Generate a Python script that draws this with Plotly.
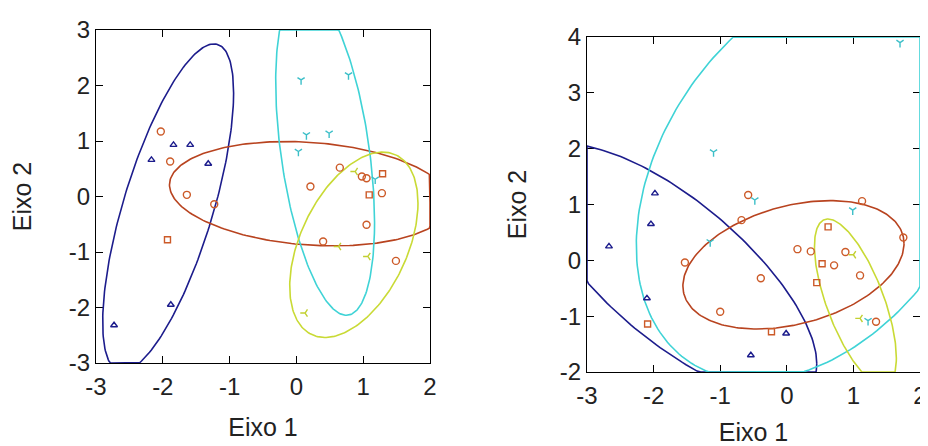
import numpy as np
import plotly.graph_objects as go
from plotly.subplots import make_subplots

# --- scatter points, left panel ---
l_tri_x = [-1.84, -1.59, -2.17, -1.32, -1.88, -2.73]
l_tri_y = [0.93, 0.93, 0.66, 0.59, -1.95, -2.32]
l_circ_x = [-2.03, -1.89, -1.64, -1.23, 0.21, 0.65, 0.98, 1.05, 1.28, 1.05, 0.40, 1.49]
l_circ_y = [1.17, 0.63, 0.03, -0.14, 0.18, 0.52, 0.36, 0.33, 0.06, -0.51, -0.81, -1.16]
l_sq_x = [-1.93, 1.09, 1.29]
l_sq_y = [-0.78, 0.03, 0.41]
l_cyan_x = [0.07, 0.78, 0.15, 0.49, 0.03, 1.18]
l_cyan_y = [2.10, 2.19, 1.11, 1.14, 0.81, 0.31]
l_yel_x = [0.88, 0.63, 0.13, 1.07]
l_yel_y = [0.45, -0.90, -2.10, -1.08]

# --- scatter points, right panel ---
r_tri_x = [-1.98, -2.04, -2.67, -2.10, -0.01, -0.54]
r_tri_y = [1.20, 0.65, 0.25, -0.68, -1.31, -1.70]
r_circ_x = [-0.58, -0.68, -1.53, -0.39, -1.00, 1.13, 1.75, 0.16, 0.36, 0.88, 0.71, 1.10, 1.34]
r_circ_y = [1.17, 0.72, -0.04, -0.32, -0.92, 1.06, 0.41, 0.20, 0.16, 0.15, -0.09, -0.27, -1.10]
r_sq_x = [0.62, 0.53, 0.45, -0.23, -2.09]
r_sq_y = [0.60, -0.06, -0.40, -1.28, -1.14]
r_cyan_x = [-1.10, -0.48, 0.99, 1.70, -1.15, 1.22]
r_cyan_y = [1.94, 1.08, 0.90, 3.90, 0.33, -1.08]
r_yel_x = [1.00, 1.10]
r_yel_y = [0.10, -1.04]

# ellipse parameters per group: centre x/y, half extents along x/y, correlation
# order: blue, red, cyan, yellow
l_ell_cx = [-1.92, 0.20, 0.43, 0.86]
l_ell_cy = [-0.20, 0.05, 0.80, -0.87]
l_ell_rx = [0.98, 2.10, 0.74, 0.96]
l_ell_ry = [2.95, 0.94, 2.94, 1.67]
l_ell_rho = [0.70, -0.17, -0.43, 0.45]

r_ell_cx = [-1.68, 0.10, 0.40, 1.03]
r_ell_cy = [-0.20, -0.08, 1.50, -0.75]
r_ell_rx = [2.13, 1.66, 2.66, 0.615]
r_ell_ry = [2.26, 1.15, 3.65, 1.49]
r_ell_rho = [-0.73, 0.33, 0.34, -0.67]

x_ticks = [-3, -2, -1, 0, 1, 2]
x_ticklabels = ["-3", "-2", "-1", "0", "1", "2"]
l_y_ticks = [-3, -2, -1, 0, 1, 2, 3]
l_y_ticklabels = ["-3", "-2", "-1", "0", "1", "2", "3"]
r_y_ticks = [-2, -1, 0, 1, 2, 3, 4]
r_y_ticklabels = ["-2", "-1", "0", "1", "2", "3", "4"]

l_xrange, l_yrange = (-3, 2), (-3, 3)
r_xrange, r_yrange = (-3, 2), (-2, 4)

ELL_COLORS = ["#1c1c8c", "#b8431f", "#3fd3d6", "#c9da35"]
FONT = "Liberation Sans, Arial, sans-serif"

# the page body adds an 8px margin, so lay out on a slightly smaller canvas
PAD = 8
W, H = 928 - PAD, 446 - PAD


def xdom(a, b):
    return [(a - PAD) / W, (b - PAD) / W]


def ydom(top, bottom):
    return [1 - (bottom - PAD) / H, 1 - (top - PAD) / H]


def ellipse(cx, cy, rx, ry, rho, xr, yr):
    t = np.linspace(0, 2 * np.pi, 241)
    x = cx + rx * np.cos(t)
    y = cy + ry * (rho * np.cos(t) + np.sqrt(1 - rho ** 2) * np.sin(t))
    # the original clamps the curve onto the frame
    return np.clip(x, *xr), np.clip(y, *yr)


def add_panel(fig, col, pts, ell, xr, yr):
    cxs, cys, rxs, rys, rhos = ell
    for i in range(4):
        ex, ey = ellipse(cxs[i], cys[i], rxs[i], rys[i], rhos[i], xr, yr)
        fig.add_trace(go.Scatter(x=ex, y=ey, mode="lines", cliponaxis=False,
                                 line=dict(color=ELL_COLORS[i], width=1.6)),
                      row=1, col=col)
    tri, circ, sq, cyan, yel = pts
    styles = [
        (tri, "triangle-up-open", "#1c1c8c", 6),
        (circ, "circle-open", "#cc5a28", 7),
        (sq, "square-open", "#cc5a28", 6),
        (cyan, "y-down-open", "#3cbfc8", 6),
        (yel, "y-left-open", "#c2d030", 6),
    ]
    for (xs, ys), sym, color, size in styles:
        fig.add_trace(go.Scatter(x=xs, y=ys, mode="markers",
                                 marker=dict(symbol=sym, size=size, color=color,
                                             line=dict(color=color, width=1.4))),
                      row=1, col=col)


fig = make_subplots(rows=1, cols=2)
add_panel(fig, 1,
          [(l_tri_x, l_tri_y), (l_circ_x, l_circ_y), (l_sq_x, l_sq_y),
           (l_cyan_x, l_cyan_y), (l_yel_x, l_yel_y)],
          (l_ell_cx, l_ell_cy, l_ell_rx, l_ell_ry, l_ell_rho), l_xrange, l_yrange)
add_panel(fig, 2,
          [(r_tri_x, r_tri_y), (r_circ_x, r_circ_y), (r_sq_x, r_sq_y),
           (r_cyan_x, r_cyan_y), (r_yel_x, r_yel_y)],
          (r_ell_cx, r_ell_cy, r_ell_rx, r_ell_ry, r_ell_rho), r_xrange, r_yrange)

axis_common = dict(showline=True, linecolor="black", linewidth=1, mirror="ticks",
                   ticks="inside", ticklen=7, tickcolor="black", showgrid=False,
                   zeroline=False, automargin=False, layer="below traces",
                   ticklabeloverflow="allow",
                   tickfont=dict(size=24, color="#222"),
                   title_font=dict(size=25, color="#222"))

fig.update_xaxes(axis_common)
fig.update_yaxes(axis_common)
fig.update_xaxes(ticklabelstandoff=2)
fig.update_xaxes(range=l_xrange, tickvals=x_ticks, ticktext=x_ticklabels,
                 domain=xdom(96, 430), title_text="Eixo 1",
                 title_standoff=19, row=1, col=1)
fig.update_yaxes(range=l_yrange, tickvals=l_y_ticks, ticktext=l_y_ticklabels,
                 domain=ydom(30, 363), title_text="Eixo 2",
                 title_standoff=40, row=1, col=1)
fig.update_xaxes(range=r_xrange, tickvals=x_ticks, ticktext=x_ticklabels,
                 domain=xdom(587, 920), title_text="Eixo 1",
                 title_standoff=15, row=1, col=2)
fig.update_yaxes(range=r_yrange, tickvals=r_y_ticks, ticktext=r_y_ticklabels,
                 domain=ydom(37, 372), title_text="Eixo 2",
                 title_standoff=26, row=1, col=2)

fig.update_layout(width=W, height=H, margin=dict(l=0, r=0, t=0, b=0),
                  paper_bgcolor="white", plot_bgcolor="white", showlegend=False,
                  font=dict(family=FONT, color="#222"))

fig.write_html("out.html")
